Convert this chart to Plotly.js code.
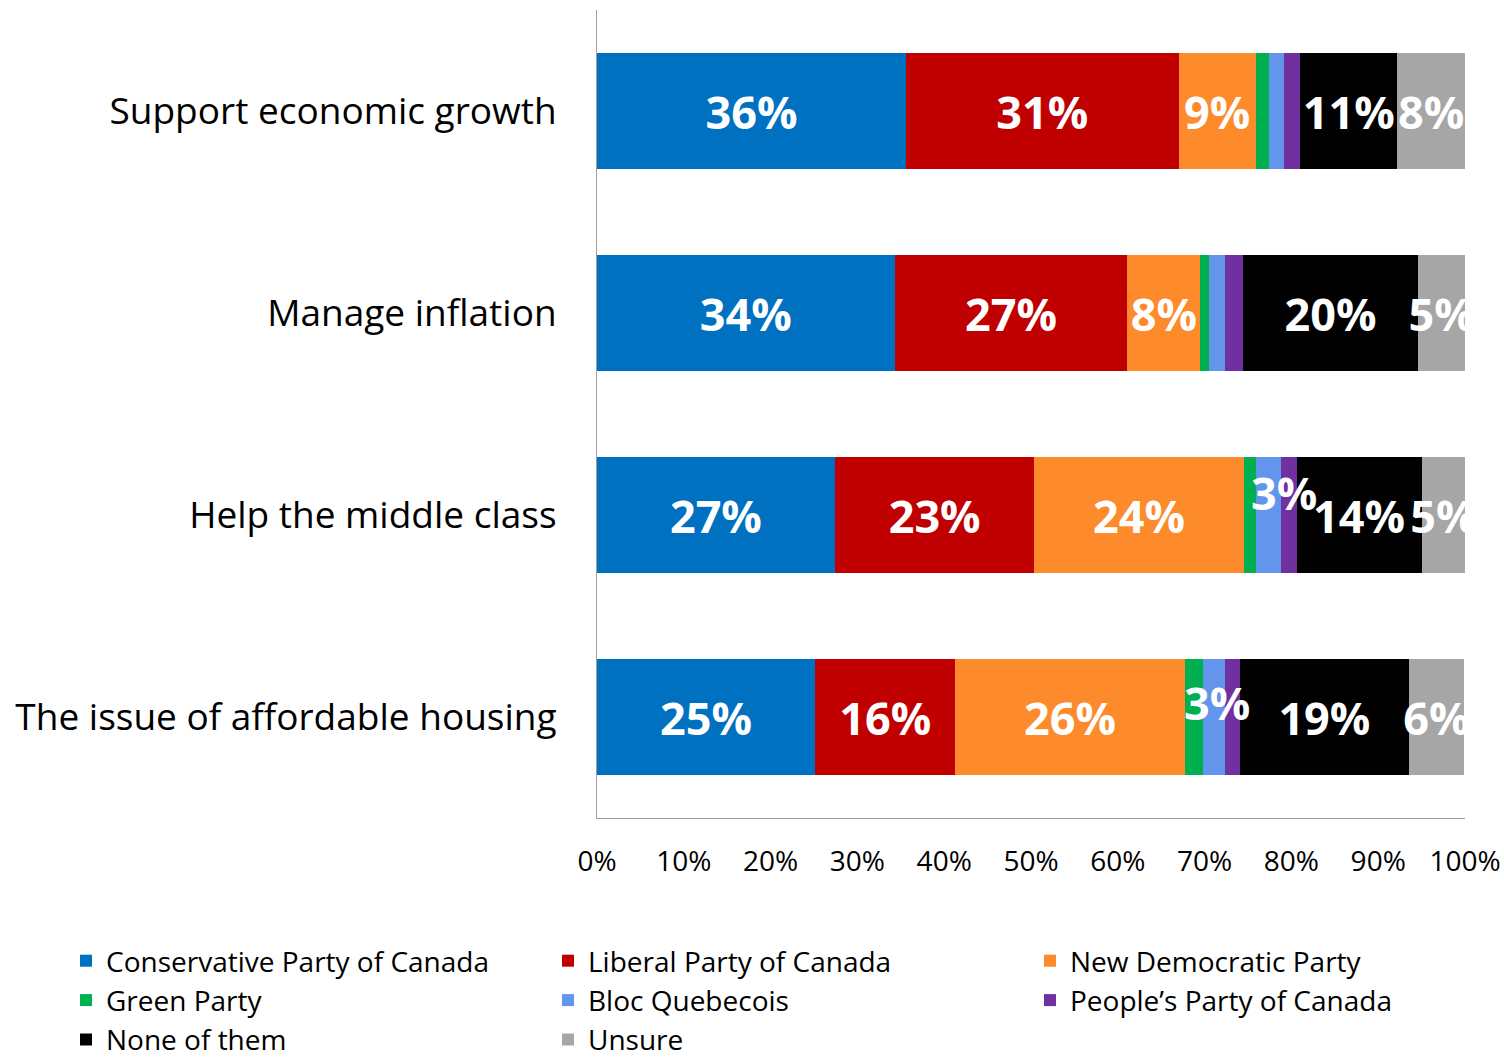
<!DOCTYPE html>
<html>
<head>
<meta charset="utf-8">
<script src="https://cdn.plot.ly/plotly-3.0.1.min.js"></script>
<style>html,body{margin:0;padding:0;background:#fff;}#chart{width:1504px;height:1058px;}</style>
</head>
<body>
<div id="chart"></div>
<script>
// Categories (top to bottom)
const categories = [
  "Support economic growth",
  "Manage inflation",
  "Help the middle class",
  "The issue of affordable housing"
];

// Series (percent of respondents)
const conservative = [35.6, 34.3, 27.4, 25.1];
const liberal      = [31.4, 26.8, 23.0, 16.2];
const ndp          = [8.9, 8.4, 24.1, 26.4];
const green        = [1.5, 1.0, 1.4, 2.1];
const bloc         = [1.8, 1.8, 2.9, 2.6];
const ppc          = [1.8, 2.1, 1.8, 1.7];
const noneOfThem   = [11.2, 20.2, 14.4, 19.4];
const unsure       = [7.8, 5.4, 5.0, 6.4];

const seriesNames = [
  "Conservative Party of Canada", "Liberal Party of Canada", "New Democratic Party",
  "Green Party", "Bloc Quebecois", "People\u2019s Party of Canada",
  "None of them", "Unsure"
];
const seriesValues = [conservative, liberal, ndp, green, bloc, ppc, noneOfThem, unsure];
const seriesColors = ["#0070C0", "#C00000", "#FD8A2B", "#00B050", "#6495ED", "#7030A0", "#000000", "#A6A6A6"];

// Tick labels
const xTickVals = [0, 10, 20, 30, 40, 50, 60, 70, 80, 90, 100];
const xTickText = xTickVals.map(v => v + "%");

const LABEL_MIN = 2.5;
const BLOC_INDEX = 4;
// label offsets (px) for the relocated Bloc labels, per category
const blocLabelShift = [[0, 0], [0, 0], [16, 23], [3, 15]];

const labelFont = {family: "Open Sans, sans-serif", size: 45, color: "#FFFFFF", weight: 700};

const traces = seriesValues.map((vals, i) => ({
  type: "bar",
  orientation: "h",
  name: seriesNames[i],
  y: categories,
  x: vals,
  marker: {color: seriesColors[i]},
  text: vals.map(v => (i !== BLOC_INDEX && v >= LABEL_MIN) ? Math.round(v) + "%" : ""),
  textposition: "inside",
  insidetextanchor: "middle",
  textangle: 0,
  constraintext: "none",
  cliponaxis: true,
  textfont: labelFont,
  insidetextfont: labelFont,
  hoverinfo: "skip"
}));

// Bloc labels, placed at the middle of the Bloc segment and nudged
const annotations = [];
categories.forEach((cat, r) => {
  const v = bloc[r];
  if (v >= LABEL_MIN) {
    let start = 0;
    for (let k = 0; k < BLOC_INDEX; k++) start += seriesValues[k][r];
    annotations.push({
      x: start + v / 2, y: cat, xref: "x", yref: "y",
      text: Math.round(v) + "%", showarrow: false,
      xshift: blocLabelShift[r][0], yshift: blocLabelShift[r][1],
      font: labelFont
    });
  }
});

const layout = {
  width: 1504, height: 1058,
  margin: {l: 597, r: 39, t: 10, b: 240, autoexpand: false},
  paper_bgcolor: "#FFFFFF", plot_bgcolor: "#FFFFFF",
  barmode: "stack",
  bargap: 0.43,
  font: {family: "Open Sans, sans-serif", color: "#000000"},
  xaxis: {
    range: [0, 100], tickvals: xTickVals, ticktext: xTickText,
    showgrid: false, zeroline: false, showline: true, linecolor: "#A0A0A0", linewidth: 1,
    ticks: "", ticklabelstandoff: 18,
    tickfont: {family: "Open Sans, sans-serif", size: 28, color: "#000000"},
    fixedrange: true
  },
  yaxis: {
    autorange: "reversed", type: "category",
    showgrid: false, zeroline: false, showline: true, linecolor: "#A0A0A0", linewidth: 1,
    ticks: "", ticklabelstandoff: 32,
    tickfont: {family: "Open Sans, sans-serif", size: 37, color: "#000000"},
    fixedrange: true
  },
  showlegend: true,
  legend: {
    orientation: "h",
    x: (66 - 597) / 868, xanchor: "left",
    y: -(936 - 818) / 808, yanchor: "top",
    entrywidth: 437, entrywidthmode: "pixels",
    traceorder: "normal",
    font: {family: "Open Sans, sans-serif", size: 28, color: "#000000"},
    bgcolor: "rgba(0,0,0,0)", borderwidth: 0
  },
  annotations: annotations
};

Plotly.newPlot("chart", traces, layout, {displayModeBar: false, staticPlot: true});
</script>
</body>
</html>
